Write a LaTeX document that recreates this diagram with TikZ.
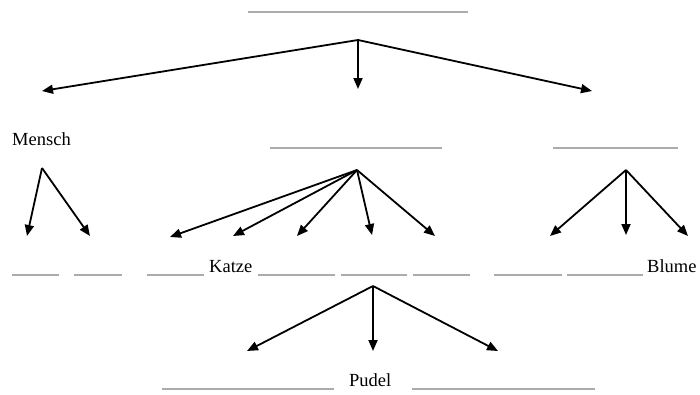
\documentclass[tikz,border=0pt]{standalone}
\usepackage{fontspec}
\setmainfont{Liberation Serif}
\usetikzlibrary{arrows.meta}

\begin{document}
\begin{tikzpicture}[
    x=1pt, y=-1pt,
    blank/.style={draw=gray!65, line width=1.7pt},
    word/.style={anchor=base west, inner sep=0pt, font=\fontsize{18.5}{20}\selectfont},
    arrow/.style={-{Triangle[length=11pt,width=9pt]}, line width=1.8pt}
  ]
    \useasboundingbox (0,0) rectangle (700,394);

    % blanks to fill in
    \draw[blank] (248,12) -- (468,12);
    \draw[blank] (270,148) -- (442,148);
    \draw[blank] (553,148) -- (678,148);
    \foreach \a/\b in {12/59, 74/122, 147/204, 258/335, 341/407, 413/470, 494/562, 567/643}
      \draw[blank] (\a,275) -- (\b,275);
    \draw[blank] (162,389) -- (334,389);
    \draw[blank] (412,389) -- (595,389);

    % given words
    \node[word] (mensch) at (12,145) {Mensch};
    \node[word] (katze) at (209,272) {Katze};
    \node[word] (blume) at (647,272) {Blume};
    \node[word] (pudel) at (349,386) {Pudel};

    % branch points
    \coordinate (top) at (358,40);
    \coordinate (mtop) at (42,168);
    \coordinate (ctop) at (357,170);
    \coordinate (rtop) at (626,170);
    \coordinate (btop) at (373,286);

    % arrow ends
    \coordinate (t1) at (42,91);
    \coordinate (t2) at (358,89);
    \coordinate (t3) at (592,91);
    \coordinate (m1) at (27,236);
    \coordinate (m2) at (90,236);
    \coordinate (c1) at (170,237);
    \coordinate (c2) at (233,236);
    \coordinate (c3) at (297,236);
    \coordinate (c4) at (372,235);
    \coordinate (c5) at (435,236);
    \coordinate (r1) at (550,236);
    \coordinate (r2) at (626,235);
    \coordinate (r3) at (688,236);
    \coordinate (b1) at (247,351);
    \coordinate (b2) at (373,351);
    \coordinate (b3) at (498,351);

    \foreach \e in {t1,t2,t3} \draw[arrow] (top) -- (\e);
    \foreach \e in {m1,m2} \draw[arrow] (mtop) -- (\e);
    \foreach \e in {c1,c2,c3,c4,c5} \draw[arrow] (ctop) -- (\e);
    \foreach \e in {r1,r2,r3} \draw[arrow] (rtop) -- (\e);
    \foreach \e in {b1,b2,b3} \draw[arrow] (btop) -- (\e);
\end{tikzpicture}
\end{document}
